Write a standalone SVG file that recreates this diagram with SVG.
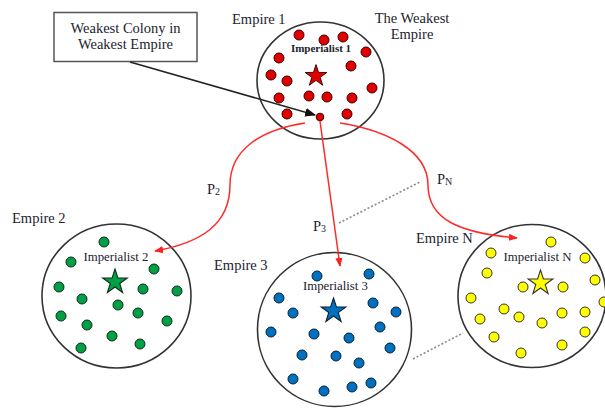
<svg xmlns="http://www.w3.org/2000/svg" xmlns:xlink="http://www.w3.org/1999/xlink" width="605" height="409" viewBox="0 0 605 409">
<style>
text{font-family:"Liberation Serif","Times New Roman",serif;fill:#22222e}
.lbl{font-size:14.5px}
.imp{font-size:12.8px}
.ring{fill:#fff;stroke:#333;stroke-width:1.6}
.r{fill:#e30000;stroke:#3a0000;stroke-width:1}
.g{fill:#00a046;stroke:#0f2a16;stroke-width:1}
.b{fill:#0070c0;stroke:#0a1e33;stroke-width:1}
.y{fill:#ffff00;stroke:#333;stroke-width:1}
.red{fill:none;stroke:#ff2a2a;stroke-width:1.5}
.dot{fill:none;stroke:#8a8a8a;stroke-width:1.6;stroke-dasharray:2 2}
</style>
<defs>
<path id="star" d="M0,-12 L2.7,-3.72 L11.41,-3.71 L4.37,1.42 L7.05,9.71 L0,4.6 L-7.05,9.71 L-4.37,1.42 L-11.41,-3.71 L-2.7,-3.72 Z"/>
<marker id="ar" viewBox="0 0 10 10" refX="9" refY="5" markerWidth="9" markerHeight="9" orient="auto" markerUnits="userSpaceOnUse"><path d="M0,1 L10,5 L0,9 Z" fill="#ff2020"/></marker>
<marker id="ab" viewBox="0 0 10 10" refX="9" refY="5" markerWidth="11" markerHeight="11" orient="auto" markerUnits="userSpaceOnUse"><path d="M0,1 L10,5 L0,9 Z" fill="#111"/></marker>
</defs>
<rect width="605" height="409" fill="#fff"/>

<g id="empire1">
<ellipse class="ring" cx="320.5" cy="80.5" rx="63.5" ry="58.5"/>
<text class="lbl" x="232" y="24">Empire 1</text>
<text class="lbl" x="412" y="23" text-anchor="middle">The Weakest</text>
<text class="lbl" x="412" y="39" text-anchor="middle">Empire</text>
<text x="321" y="52" text-anchor="middle" font-size="11" font-weight="bold">Imperialist 1</text>
<use xlink:href="#star" transform="translate(316,76) scale(0.95)" fill="#e30000" stroke="#3a0000" stroke-width="1"/>
<g>
<circle class="r" cx="299" cy="35" r="5"/><circle class="r" cx="324" cy="40" r="5"/><circle class="r" cx="343" cy="37" r="5"/>
<circle class="r" cx="366" cy="52" r="5"/><circle class="r" cx="279" cy="58" r="5"/><circle class="r" cx="351" cy="66" r="5"/>
<circle class="r" cx="271" cy="75" r="5"/><circle class="r" cx="287" cy="81" r="5"/><circle class="r" cx="372" cy="88" r="5"/>
<circle class="r" cx="279" cy="98" r="5"/><circle class="r" cx="309" cy="96" r="5"/><circle class="r" cx="327" cy="97" r="5"/>
<circle class="r" cx="352" cy="98" r="5"/><circle class="r" cx="287" cy="114" r="5"/><circle class="r" cx="347" cy="114" r="5"/>
<circle class="r" cx="320" cy="117" r="3.8"/>
</g>
</g>

<g id="callout">
<rect x="54" y="12.5" width="143" height="49" fill="#fff" stroke="#555" stroke-width="1.5"/>
<text class="lbl" x="125.5" y="33" text-anchor="middle">Weakest Colony in</text>
<text class="lbl" x="125.5" y="49" text-anchor="middle">Weakest Empire</text>
</g>

<g id="empire2">
<ellipse class="ring" cx="116.5" cy="296" rx="74.5" ry="72"/>
<text class="lbl" x="12" y="223">Empire 2</text>
<text class="imp" x="116" y="261" text-anchor="middle">Imperialist 2</text>
<use xlink:href="#star" transform="translate(115,282) scale(1.08)" fill="#00a046" stroke="#0f2a16" stroke-width="1"/>
<g>
<circle class="g" cx="104" cy="242" r="5"/><circle class="g" cx="71" cy="262" r="5"/><circle class="g" cx="154" cy="269" r="5"/>
<circle class="g" cx="59" cy="287" r="5"/><circle class="g" cx="143" cy="289" r="5"/><circle class="g" cx="177" cy="291" r="5"/>
<circle class="g" cx="82" cy="299" r="5"/><circle class="g" cx="118" cy="305" r="5"/><circle class="g" cx="61" cy="316" r="5"/>
<circle class="g" cx="138" cy="313" r="5"/><circle class="g" cx="87" cy="325" r="5"/><circle class="g" cx="167" cy="321" r="5"/>
<circle class="g" cx="112" cy="336" r="5"/><circle class="g" cx="81" cy="348" r="5"/><circle class="g" cx="140" cy="344" r="5"/>
</g>
</g>

<g id="empire3">
<ellipse class="ring" cx="334.5" cy="329.5" rx="77" ry="77"/>
<text class="lbl" x="214" y="270">Empire 3</text>
<text class="imp" x="335.5" y="290" text-anchor="middle">Imperialist 3</text>
<use xlink:href="#star" transform="translate(333.5,311) scale(1.08)" fill="#0070c0" stroke="#0a1e33" stroke-width="1"/>
<g>
<circle class="b" cx="317" cy="276" r="5"/><circle class="b" cx="369" cy="274" r="5"/><circle class="b" cx="279" cy="298" r="5"/>
<circle class="b" cx="373" cy="303" r="5"/><circle class="b" cx="293" cy="313" r="5"/><circle class="b" cx="396" cy="312" r="5"/>
<circle class="b" cx="380" cy="327" r="5"/><circle class="b" cx="271" cy="332" r="5"/><circle class="b" cx="314" cy="334" r="5"/>
<circle class="b" cx="349" cy="338" r="5"/><circle class="b" cx="390" cy="348" r="5"/><circle class="b" cx="302" cy="355" r="5"/>
<circle class="b" cx="336" cy="356" r="5"/><circle class="b" cx="359" cy="363" r="5"/><circle class="b" cx="293" cy="379" r="5"/>
<circle class="b" cx="324" cy="391" r="5"/><circle class="b" cx="352" cy="387" r="5"/><circle class="b" cx="371" cy="383" r="5"/>
</g>
</g>

<g id="empireN">
<ellipse class="ring" cx="532" cy="296" rx="74" ry="71.5"/>
<text class="lbl" x="416" y="243">Empire N</text>
<text class="imp" x="537.5" y="261" text-anchor="middle">Imperialist N</text>
<use xlink:href="#star" transform="translate(540.5,283) scale(1.08)" fill="#ffff00" stroke="#333" stroke-width="1"/>
<g>
<circle class="y" cx="551" cy="242" r="5"/><circle class="y" cx="491" cy="253" r="5"/><circle class="y" cx="585" cy="258" r="5"/>
<circle class="y" cx="487" cy="273" r="5"/><circle class="y" cx="595" cy="280" r="5"/><circle class="y" cx="523" cy="287" r="5"/>
<circle class="y" cx="563" cy="287" r="5"/><circle class="y" cx="471" cy="298" r="5"/><circle class="y" cx="604" cy="302" r="5"/>
<circle class="y" cx="504" cy="309" r="5"/><circle class="y" cx="480" cy="319" r="5"/><circle class="y" cx="519" cy="317" r="5"/>
<circle class="y" cx="542" cy="323" r="5"/><circle class="y" cx="562" cy="313" r="5"/><circle class="y" cx="585" cy="312" r="5"/>
<circle class="y" cx="585" cy="332" r="5"/><circle class="y" cx="494" cy="337" r="5"/><circle class="y" cx="562" cy="345" r="5"/>
<circle class="y" cx="521" cy="353" r="5"/>
</g>
</g>

<g id="connectors">
<line x1="130" y1="62" x2="315" y2="115" stroke="#222" stroke-width="1.5" marker-end="url(#ab)"/>
<path class="red" d="M305,123 C260,130 230,150 230,185 C230,225 200,243 155,251" marker-end="url(#ar)"/>
<path class="red" d="M320,121 L340,266" marker-end="url(#ar)"/>
<path class="red" d="M340,123 C385,130 428,150 428,185 C428,220 460,233 517,238" marker-end="url(#ar)"/>
<line class="dot" x1="339" y1="223" x2="420" y2="182"/>
<line class="dot" x1="413" y1="359" x2="463" y2="333"/>
<text class="lbl" x="207" y="194">P<tspan font-size="10" dy="1">2</tspan></text>
<text class="lbl" x="313" y="231">P<tspan font-size="10" dy="1">3</tspan></text>
<text class="lbl" x="437" y="184">P<tspan font-size="10" dy="1">N</tspan></text>
</g>
</svg>
